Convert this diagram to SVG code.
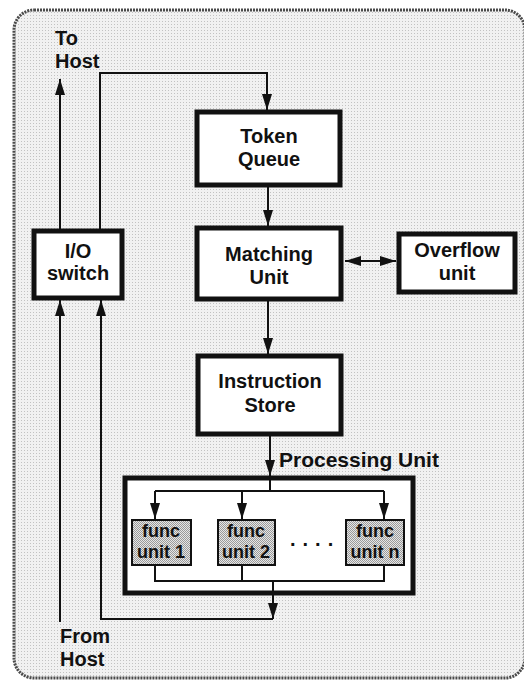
<svg xmlns="http://www.w3.org/2000/svg" width="524" height="681" viewBox="0 0 524 681">
<defs>
<pattern id="bg" width="3" height="3" patternUnits="userSpaceOnUse"><rect width="3" height="3" fill="#f1f1f1"/><rect width="1" height="1" fill="#c2c2c2"/></pattern>
<pattern id="fu" width="2" height="2" patternUnits="userSpaceOnUse"><rect width="2" height="2" fill="#e6e6e6"/><rect width="1" height="1" fill="#9a9a9a"/><rect x="1" y="1" width="1" height="1" fill="#9a9a9a"/></pattern>
<marker id="ah" markerWidth="16" markerHeight="10" refX="16" refY="5" orient="auto-start-reverse" markerUnits="userSpaceOnUse"><path d="M0,0 L16,5 L0,10 Z" fill="#111"/></marker>
</defs>
<style>
.box{fill:#fff;stroke:#111;stroke-width:5}
.fbox{fill:url(#fu);stroke:#111;stroke-width:2}
.t{font-family:"Liberation Sans",Arial,Helvetica,sans-serif;font-weight:bold;font-size:20px;fill:#111;text-anchor:middle}
.l{text-anchor:start}
.f{font-size:18px}
.c{fill:none;stroke:#111;stroke-width:2}
.a{marker-end:url(#ah)}
</style>
<rect x="0" y="0" width="524" height="681" fill="#fff"/>
<rect id="frame" x="14" y="10" width="511" height="668" rx="20" fill="url(#bg)" stroke="#4a4a4a" stroke-width="3" stroke-dasharray="2 1"/>

<g id="processing-unit"><rect class="box" x="125" y="478" width="288" height="115"/><text class="t l" x="279" y="467" style="font-size:21px">Processing Unit</text>
<text class="t l" x="290" y="546" letter-spacing="7">....</text></g>

<g id="connectors">
<path class="c a" d="M60,230 V79"/>
<path class="c a" d="M100,230 V73 H267 V110"/>
<path class="c a" d="M268,186 V226"/>
<path class="c a" d="M268,300 V354"/>
<path class="c" d="M345,261 H396" marker-start="url(#ah)" marker-end="url(#ah)"/>
<path class="c a" d="M270,435 V476"/>
<path class="c" d="M270,477 V491 M155,491 H384"/>
<path class="c a" d="M155,491 V519"/>
<path class="c a" d="M242,491 V519"/>
<path class="c a" d="M384,491 V519"/>
<path class="c" d="M155,565 V581 H384 V565 M242,565 V581"/>
<path class="c a" d="M273,581 V619"/>
<path class="c a" d="M273,619 H101 V300"/>
<path class="c a" d="M60,622 V300"/>
</g>

<g id="to-host"><text class="t l" x="55" y="45">To</text><text class="t l" x="55" y="68">Host</text></g>
<g id="from-host"><text class="t l" x="60" y="643">From</text><text class="t l" x="60" y="666">Host</text></g>

<g id="io-switch"><rect class="box" x="34" y="231" width="88" height="67"/><text class="t" x="78" y="258">I/O</text><text class="t" x="78" y="280">switch</text></g>
<g id="token-queue"><rect class="box" x="197" y="112" width="143" height="73"/><text class="t" x="269" y="143">Token</text><text class="t" x="269" y="166">Queue</text></g>
<g id="matching-unit"><rect class="box" x="197" y="228" width="144" height="71"/><text class="t" x="269" y="261">Matching</text><text class="t" x="269" y="284">Unit</text></g>
<g id="overflow-unit"><rect class="box" x="399" y="234" width="116" height="58"/><text class="t" x="457" y="257">Overflow</text><text class="t" x="457" y="280">unit</text></g>
<g id="instruction-store"><rect class="box" x="198" y="356" width="143" height="78"/><text class="t" x="270" y="388">Instruction</text><text class="t" x="270" y="412">Store</text></g>

<g id="func-unit-1"><rect class="fbox" x="132" y="520" width="59" height="45"/><text class="t f" x="161" y="537">func</text><text class="t f" x="161" y="558">unit 1</text></g>
<g id="func-unit-2"><rect class="fbox" x="218" y="520" width="57" height="45"/><text class="t f" x="246" y="537">func</text><text class="t f" x="246" y="558">unit 2</text></g>
<g id="func-unit-n"><rect class="fbox" x="346" y="520" width="58" height="45"/><text class="t f" x="375" y="537">func</text><text class="t f" x="375" y="558">unit n</text></g>
</svg>
